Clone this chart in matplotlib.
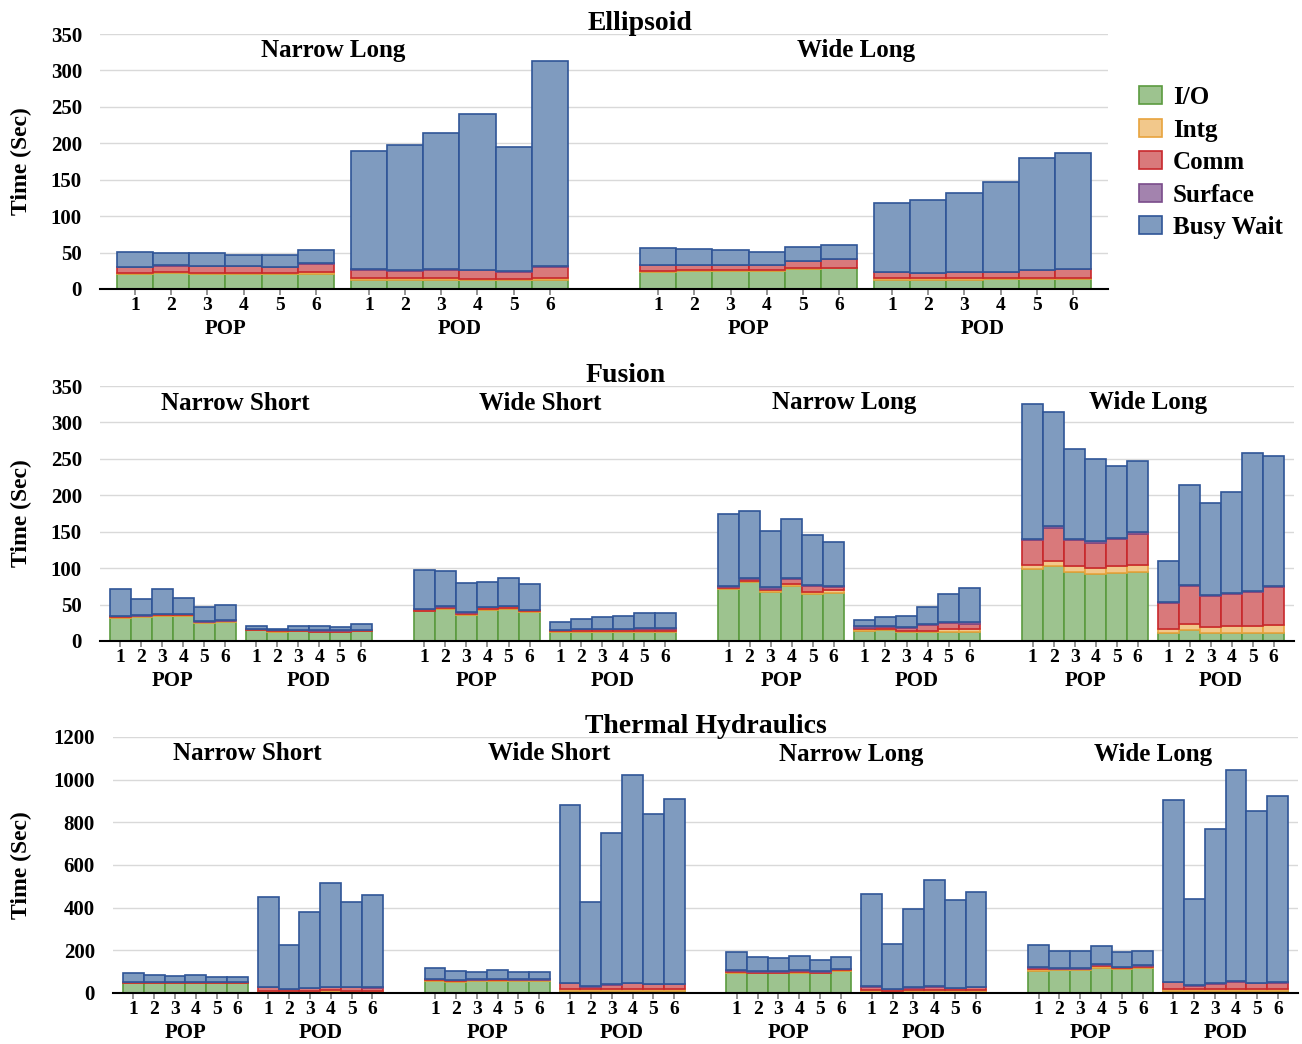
import numpy as np
import matplotlib.pyplot as plt
from matplotlib.patches import Patch

plt.rcParams['font.family'] = ['Liberation Serif', 'DejaVu Serif']
plt.rcParams['font.weight'] = 'bold'

components = ["I/O", "Intg", "Comm", "Surface", "Busy Wait"]
fills = ["#9DC38F", "#F2C88B", "#D9797B", "#A383AE", "#7F9BBF"]
edges = ["#5B9B3F", "#E8A33D", "#C8282C", "#7A4C8B", "#2F5597"]
runs = ["1", "2", "3", "4", "5", "6"]
methods = ["POP", "POD"]

# each list: config by config, POP runs 1-6 then POD runs 1-6
ell_configs = ["Narrow Long", "Wide Long"]
ell_io = [20, 22, 20.5, 21, 20.5, 20.5, 13, 13, 13, 12.5, 13, 13,
          23, 24.5, 24.5, 24.5, 28, 28.5, 13, 13, 13, 14, 13.5, 13.5]
ell_intg = [1.5, 2, 1.5, 1, 1.5, 3.5, 1.5, 1.5, 1.5, 1.5, 1, 2,
            1.5, 1, 1, 1, 1, 1, 1.5, 1.5, 1.5, 1.5, 1.5, 1.5]
ell_comm = [8.5, 8, 9, 9, 8, 11, 12, 10.5, 12, 12, 10, 15.5,
            8, 7.5, 7.5, 7.5, 9, 11, 8.5, 7, 8.5, 8, 10.5, 12]
ell_surf = [0.5] * 24
ell_busy = [20.5, 17.5, 18, 15.5, 15.5, 17.5, 162, 172.5, 187, 213.5, 170.5, 282,
            23.5, 21, 20, 17.5, 19, 20, 94.5, 100, 108.5, 123, 154, 159]

fus_configs = ["Narrow Short", "Wide Short", "Narrow Long", "Wide Long"]
fus_io = [32, 33, 35, 34.5, 24.5, 26, 14.5, 13, 13.5, 12.5, 12.5, 13.5,
          40.5, 44, 35.5, 42.5, 44, 39.5, 12, 12, 12, 12.5, 12.5, 12.5,
          71, 81, 67.5, 75.5, 64.5, 66.5, 14, 15, 12, 12, 13, 13,
          99.5, 102.5, 95, 92, 94, 95, 11.5, 15, 11.5, 11.5, 11.5, 11.5]
fus_intg = [1, 1, 1, 1, 1, 1, 0.5, 0.5, 0.5, 0.5, 0.5, 0.5,
            1, 1, 1, 1, 1, 1, 1.5, 1.5, 1.5, 1.5, 1.5, 1.5,
            1.5, 2, 2, 2.5, 3, 3, 2, 1.5, 1.5, 1.5, 3, 3.5,
            5.5, 7.5, 7.5, 8, 8.5, 9, 5, 8, 8, 9, 9, 10]
fus_comm = [1, 1, 1, 1, 1, 1, 1, 1, 1, 1, 1, 1,
            2, 2, 2.5, 2.5, 3, 2, 1.5, 2.5, 2.5, 2, 3, 3,
            2, 2, 2.5, 7, 8, 5, 2.5, 3, 4, 8, 9, 7.5,
            33, 45.5, 35.5, 35, 37, 43, 36, 52, 42.5, 44, 46.5, 53]
fus_surf = [0.5] * 24 + [1.5] * 12 + [2] * 6 + [1.5] * 6
fus_busy = [37.5, 21.5, 34.5, 22, 19, 20.5, 3.5, 2, 4.5, 5.5, 5, 7.5,
            54, 48.5, 40, 35, 37.5, 35, 10, 13.5, 16, 18, 20.5, 20.5,
            98, 91.5, 77.5, 80.5, 68.5, 59.5, 9, 12, 15.5, 24, 38, 47,
            185, 157.5, 123, 113, 98.5, 98, 56, 137.5, 126.5, 138.5, 189.5, 178]

th_configs = ["Narrow Short", "Wide Short", "Narrow Long", "Wide Long"]
th_io = [47, 46, 46, 47, 46, 46, 6, 5, 6, 6, 6, 6,
         56, 53, 56, 56, 56, 56, 10, 10, 10, 10, 10, 10,
         92, 92, 92, 95, 92, 102, 6, 6, 6, 6, 6, 6,
         103, 106, 106, 117, 114, 117, 8, 8, 8, 8, 8, 8]
th_intg = [1.5] * 6 + [5, 4, 5, 6, 5, 5] + \
          [5, 5, 4, 4, 4, 4, 9, 8, 9, 10, 9, 9] + \
          [6, 4, 4, 5, 4, 4, 8, 5, 7, 8, 6, 7] + \
          [9, 5, 5, 10, 5, 7, 11, 9, 10, 11, 10, 10]
th_comm = [2] * 6 + [15, 9, 11, 15, 15, 13] + \
          [3, 3, 3, 4, 3, 3, 26, 10, 18, 25, 22, 22] + \
          [6, 4, 4, 5, 4, 5, 16, 8, 12, 16, 11, 14] + \
          [7, 3, 3, 6, 3, 4, 31, 17, 24, 34, 27, 29]
th_surf = [1] * 6 + [2] * 6 + [1] * 6 + [3] * 6 + [1.5] * 6 + [2] * 6 + [1.5] * 6 + [3] * 6
th_busy = [42.5, 32.5, 29.5, 32.5, 26.5, 26.5, 422, 203, 356, 486, 399, 434,
           50, 39, 34, 41, 33, 33, 832, 394, 710, 974, 796, 866,
           84.5, 65.5, 62.5, 66.5, 53.5, 54.5, 433, 209, 367, 498, 411, 444,
           104.5, 79.5, 79.5, 85.5, 66.5, 65.5, 852, 403, 723, 989, 805, 873]

W, H = 1302, 1044
fig = plt.figure(figsize=(W / 100, H / 100), dpi=100)

GAP = 0.47      # space between POP and POD
SEP = 2.0       # space between configurations


def px_axes(left, right, top, bottom):
    return fig.add_axes([left / W, 1 - bottom / H, (right - left) / W, (bottom - top) / H])


def draw_panel(ax, configs, stacks, ymax, ystep, title, title_x):
    stride = 12 + GAP + SEP
    xs, centers, mcenters = [], [], []
    for k in range(len(configs)):
        base = k * stride
        pop = base + np.arange(6)
        pod = base + 6 + GAP + np.arange(6)
        xs += list(pop) + list(pod)
        mcenters += [pop.mean(), pod.mean()]
        centers.append((pop[0] + pod[-1]) / 2)
    xs = np.array(xs)
    bottom = np.zeros(len(xs))
    for vals, fc, ec in zip(stacks, fills, edges):
        vals = np.array(vals, dtype=float)
        ax.bar(xs, vals, 1.0, bottom=bottom, color=fc, edgecolor=ec, linewidth=1.2)
        bottom += vals

    ax.set_xlim(xs[0] - 0.5 - GAP, xs[-1] + 0.5 + GAP)
    ax.set_ylim(0, ymax)
    ax.set_yticks(np.arange(0, ymax + 1, ystep))
    ax.grid(axis='y', color='#d9d9d9', linewidth=1)
    ax.set_axisbelow(True)
    for s in ['top', 'right', 'left']:
        ax.spines[s].set_visible(False)
    ax.spines['bottom'].set_linewidth(1.5)
    ax.set_xticks(xs)
    ax.set_xticklabels(runs * (2 * len(configs)), fontsize=14)
    ax.tick_params(axis='x', length=4, width=1.3, color='#8c8c8c', pad=1.5)
    ax.tick_params(axis='y', length=0, pad=13, labelsize=15)

    for c, name in zip(centers, configs):
        ax.annotate(name, xy=(c - 0.25, 1), xycoords=('data', 'axes fraction'),
                    xytext=(0, -17), textcoords='offset pixels',
                    ha='center', va='center', fontsize=18)
    for c, m in zip(mcenters, methods * len(configs)):
        ax.annotate(m, xy=(c, 0), xycoords=('data', 'axes fraction'),
                    xytext=(0, -40), textcoords='offset pixels',
                    ha='center', va='center', fontsize=15)

    bb = ax.get_position()
    fig.text(title_x / W, bb.y1 + 11 / H, title, ha='center', va='center', fontsize=20)
    fig.text(21 / W, (bb.y0 + bb.y1) / 2, "Time (Sec)", rotation=90,
             ha='center', va='center', fontsize=17)


ax1 = px_axes(100, 1108, 34, 289)
draw_panel(ax1, ell_configs, [ell_io, ell_intg, ell_comm, ell_surf, ell_busy],
           350, 50, "Ellipsoid", 640)

ax2 = px_axes(100, 1294, 386, 641)
draw_panel(ax2, fus_configs, [fus_io, fus_intg, fus_comm, fus_surf, fus_busy],
           350, 50, "Fusion", 626)

ax3 = px_axes(113, 1298, 737, 993)
draw_panel(ax3, th_configs, [th_io, th_intg, th_comm, th_surf, th_busy],
           1200, 200, "Thermal Hydraulics", 706)

handles = [Patch(facecolor=fc, edgecolor=ec, linewidth=1.2) for fc, ec in zip(fills, edges)]
fig.legend(handles, components, loc='upper left', bbox_to_anchor=(1139 / W, 1 - 86 / H),
           frameon=False, fontsize=18, handlelength=0.9, handleheight=0.75,
           labelspacing=0.38, handletextpad=0.45, borderpad=0, borderaxespad=0)

fig.savefig("out.png", dpi=100)
